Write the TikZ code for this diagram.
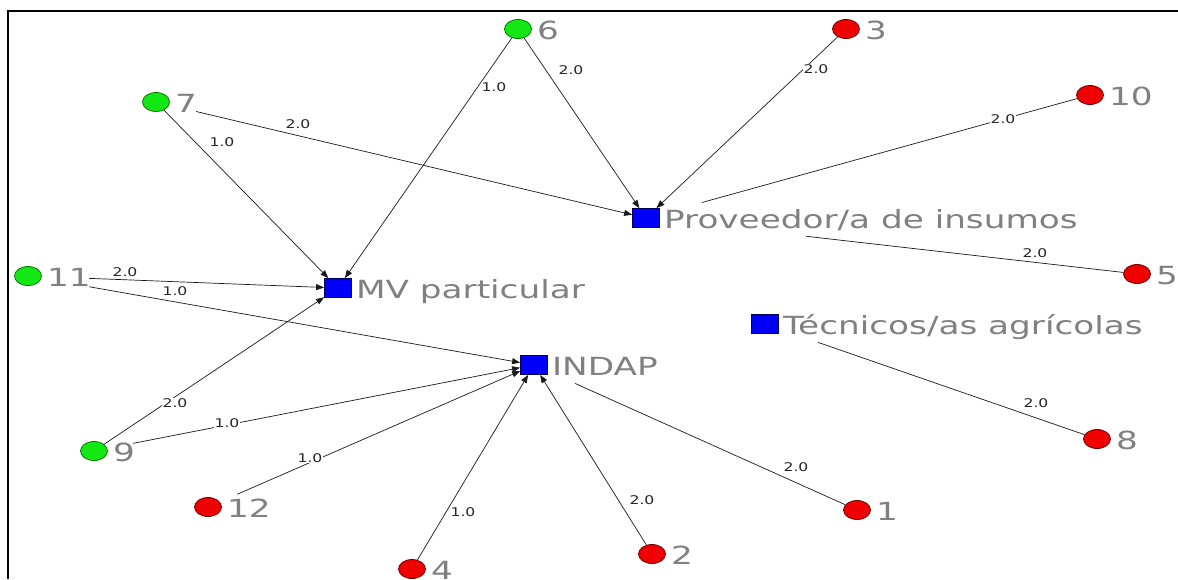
\documentclass[tikz,border=0pt]{standalone}
\usepackage{fontspec}
\setmainfont{DejaVu Sans}
\usetikzlibrary{arrows.meta,shapes.geometric,calc}
\definecolor{gfill}{RGB}{20,232,20}
\definecolor{gdraw}{RGB}{0,120,0}
\definecolor{rfill}{RGB}{240,0,0}
\definecolor{rdraw}{RGB}{110,0,0}
\definecolor{bfill}{RGB}{0,0,250}
\definecolor{bdraw}{RGB}{0,0,90}
\definecolor{labgray}{RGB}{128,128,128}
\newcommand{\hstretch}[1]{\scalebox{1.37}[1]{#1}}
\newcommand{\estretch}[1]{\scalebox{1.3}[1]{#1}}
\begin{document}
\begin{tikzpicture}[x=1pt,y=-1pt,
  actor/.style={ellipse, minimum width=27pt, minimum height=19pt, inner sep=0pt, line width=0.8pt},
  green/.style={actor, fill=gfill, draw=gdraw},
  red/.style={actor, fill=rfill, draw=rdraw},
  sq/.style={rectangle, fill=bfill, draw=bdraw, line width=0.8pt, minimum width=27pt, minimum height=19pt, inner sep=0pt},
  numlab/.style={anchor=base west, inner sep=0pt, text=labgray, font=\fontsize{25}{25}\selectfont},
  elab/.style={inner sep=0.6pt, fill=white, text=black!85, font=\fontsize{12}{12}\selectfont},
  edge/.style={line width=0.7pt, black!90},
  arr/.style={edge, -{Triangle[length=8pt,width=6pt]}}
]
\useasboundingbox (0,0) rectangle (1178,579);
\fill[white] (0,0) rectangle (1178,579);
\draw[line width=2pt] (8,579) -- (8,11) -- (1178,11);

% actors
\node[green] (n6) at (518,29) {};
\node[red] (n3) at (846,29) {};
\node[red] (n10) at (1090,95) {};
\node[green] (n7) at (156,102) {};
\node[red] (n5) at (1137,274) {};
\node[green] (n11) at (28,276) {};
\node[green] (n9) at (94,451) {};
\node[red] (n8) at (1097,439) {};
\node[red] (n12) at (208,507) {};
\node[red] (n1) at (857,510) {};
\node[red] (n2) at (652,554) {};
\node[red] (n4) at (412,569) {};
\node[sq] (prov) at (646,218) {};
\node[sq] (mv) at (338,288) {};
\node[sq] (tec) at (765,324) {};
\node[sq] (indap) at (534,365) {};

% edges
\draw[arr] (n7) -- (mv);
\draw[arr] ($(n7)!0.082!(prov)$) -- (prov);
\draw[arr] (n6) -- (mv);
\draw[arr] (n6) -- (prov);
\draw[arr] (n3) -- (prov);
\draw[edge] (n10) -- ($(n10)!0.874!(prov)$);
\draw[edge] (n5) -- ($(n5)!0.674!(prov)$);
\draw[arr] ($(n11)!0.197!(mv)$) -- (mv);
\draw[arr] ($(n11)!0.121!(indap)$) -- (indap);
\draw[arr] (n9) -- (mv);
\draw[arr] ($(n9)!0.089!(indap)$) -- (indap);
\draw[arr] ($(n12)!0.09!(indap)$) -- (indap);
\draw[arr] (n4) -- (indap);
\draw[arr] (n2) -- (indap);
\draw[edge] (n1) -- ($(n1)!0.873!(indap)$);
\draw[edge] (n8) -- ($(n8)!0.84!(tec)$);

% edge labels
\node[elab] (w1) at (222,142) {\estretch{1.0}};
\node[elab] (w2) at (298,124) {\estretch{2.0}};
\node[elab] (w3) at (494,87) {\estretch{1.0}};
\node[elab] (w4) at (571,70) {\estretch{2.0}};
\node[elab] (w5) at (816,69) {\estretch{2.0}};
\node[elab] (w6) at (1003,119) {\estretch{2.0}};
\node[elab] (w7) at (1035,253) {\estretch{2.0}};
\node[elab] (w8) at (125,272) {\estretch{2.0}};
\node[elab] (w9) at (175,291) {\estretch{1.0}};
\node[elab] (w10) at (175,403) {\estretch{2.0}};
\node[elab] (w11) at (227,423) {\estretch{1.0}};
\node[elab] (w12) at (310,458) {\estretch{1.0}};
\node[elab] (w13) at (463,512) {\estretch{1.0}};
\node[elab] (w14) at (642,500) {\estretch{2.0}};
\node[elab] (w15) at (796,467) {\estretch{2.0}};
\node[elab] (w16) at (1036,403) {\estretch{2.0}};

% node labels
\node[numlab] (l6) at ($(n6.east)+(5,10)$) {\hstretch{6}};
\node[numlab] (l3) at ($(n3.east)+(5,10)$) {\hstretch{3}};
\node[numlab] (l10) at ($(n10.east)+(5,10)$) {\hstretch{10}};
\node[numlab] (l7) at ($(n7.east)+(5,10)$) {\hstretch{7}};
\node[numlab] (l5) at ($(n5.east)+(5,10)$) {\hstretch{5}};
\node[numlab] (l11) at ($(n11.east)+(5,10)$) {\hstretch{11}};
\node[numlab] (l9) at ($(n9.east)+(5,10)$) {\hstretch{9}};
\node[numlab] (l8) at ($(n8.east)+(5,10)$) {\hstretch{8}};
\node[numlab] (l12) at ($(n12.east)+(5,10)$) {\hstretch{12}};
\node[numlab] (l1) at ($(n1.east)+(5,10)$) {\hstretch{1}};
\node[numlab] (l2) at ($(n2.east)+(5,10)$) {\hstretch{2}};
\node[numlab] (l4) at ($(n4.east)+(5,10)$) {\hstretch{4}};
\node[numlab] (lprov) at ($(prov.east)+(4,10)$) {\hstretch{Proveedor/a de insumos}};
\node[numlab] (lmv) at ($(mv.east)+(4,10)$) {\hstretch{MV particular}};
\node[numlab] (ltec) at ($(tec.east)+(4,10)$) {\hstretch{Técnicos/as agrícolas}};
\node[numlab] (lindap) at ($(indap.east)+(4,10)$) {\hstretch{INDAP}};
\end{tikzpicture}
\end{document}
